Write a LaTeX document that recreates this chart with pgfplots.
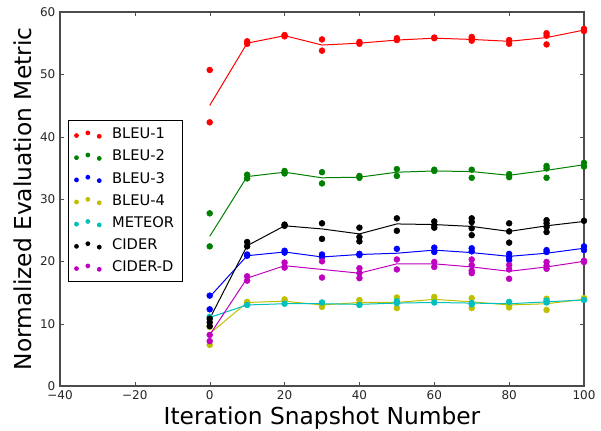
\documentclass[border=0pt]{standalone}
\usepackage{pgfplots}
\pgfplotsset{compat=1.18}
\usepackage{fontspec}
\setmainfont{DejaVu Sans}

\definecolor{mr}{rgb}{1,0,0}
\definecolor{mg}{rgb}{0,0.5,0}
\definecolor{mb}{rgb}{0,0,1}
\definecolor{my}{rgb}{0.75,0.75,0}
\definecolor{mc}{rgb}{0,0.75,0.75}
\definecolor{mk}{rgb}{0,0,0}
\definecolor{mm}{rgb}{0.75,0,0.75}

% scatter points, with three dots in the legend like matplotlib's scatterpoints=3
\pgfplotsset{
  pts/.style={only marks, mark=*, mark size=2.2pt, mark options={draw=#1, fill=#1}, draw=#1, fill=#1,
    legend image code/.code={
      \path[draw=none, fill=none] (0cm,0) -- (0.95cm,0);
      \fill[#1, draw=none] (0.08cm,-0.03cm) circle (1.8pt);
      \fill[#1, draw=none] (0.38cm,0.04cm) circle (1.8pt);
      \fill[#1, draw=none] (0.68cm,-0.05cm) circle (1.8pt);
    }},
  ln/.style={no marks, #1, line width=0.75pt, forget plot},
}

\begin{document}
\begin{tikzpicture}
\path[use as bounding box] (-45pt,-33pt) rectangle (405.75pt,289.5pt);
\begin{axis}[
  at={(0,0)}, anchor=south west,
  scale only axis,
  width=393pt, height=280.5pt,
  xmin=-40, xmax=100, ymin=0, ymax=60,
  xtick={-40,-20,0,20,40,60,80,100},
  xticklabels={−40,−20,0,20,40,60,80,100},
  ytick={0,10,20,30,40,50,60},
  tick align=inside,
  major tick length=3pt,
  tick style={black!70},
  axis line style={black!70, line width=0.9pt},
  ticklabel style={font=\fontsize{9}{11}\selectfont, text=black!85},
  /pgf/number format/assume math mode=true,
  xlabel={Iteration Snapshot Number},
  ylabel={Normalized Evaluation Metric},
  xlabel style={font=\fontsize{17.5}{20}\selectfont, at={(axis description cs:0.5,-0.085)}, anchor=center},
  ylabel style={font=\fontsize{17.5}{20}\selectfont, at={(axis description cs:-0.0716,0.5)}, anchor=center},
  legend style={at={(0.015,0.71)}, anchor=north west, font=\fontsize{11}{13}\selectfont,
    draw=black, row sep=3pt, inner xsep=4pt, inner ysep=3.5pt},
  legend cell align=left,
]
% BLEU-1
\addplot[pts=mr] coordinates {
 (0,50.7)(0,42.3)(10,55.3)(10,54.9)(20,56.3)(20,56.1)(30,55.6)(30,53.8)
 (40,55.2)(40,54.9)(50,55.8)(50,55.5)(60,55.9)(60,55.8)(70,56.0)(70,55.7)(70,55.4)
 (80,55.5)(80,54.9)(90,56.6)(90,56.2)(90,54.8)(100,57.3)(100,56.95)};
\addlegendentry{BLEU-1}
\addplot[ln=mr] coordinates {
 (0,45.0)(10,55.0)(20,56.2)(30,54.7)(40,55.0)(50,55.5)(60,55.8)(70,55.6)(80,55.3)(90,55.9)(100,57.1)};
% BLEU-2
\addplot[pts=mg] coordinates {
 (0,27.7)(0,22.4)(10,33.9)(10,33.3)(20,34.5)(20,34.1)(30,34.3)(30,32.5)(40,33.7)(40,33.4)
 (50,34.8)(50,33.7)(60,34.7)(60,34.5)(70,34.7)(70,33.4)(80,34.0)(80,33.5)
 (90,35.3)(90,34.9)(90,33.4)(100,35.8)(100,35.2)};
\addlegendentry{BLEU-2}
\addplot[ln=mg] coordinates {
 (0,24.0)(10,33.6)(20,34.3)(30,33.4)(40,33.5)(50,34.3)(60,34.5)(70,34.4)(80,33.8)(90,34.6)(100,35.5)};
% BLEU-3
\addplot[pts=mb] coordinates {
 (0,14.5)(0,12.3)(10,20.9)(10,21.1)(20,21.7)(20,21.4)(30,21.1)(30,20.7)(40,21.2)(40,21.0)
 (50,22.0)(60,22.2)(60,21.5)(70,22.1)(70,21.6)(80,21.2)(80,20.7)(80,20.2)
 (90,21.8)(90,21.5)(100,22.4)(100,21.8)};
\addlegendentry{BLEU-3}
\addplot[ln=mb] coordinates {
 (0,14.3)(10,20.9)(20,21.5)(30,20.7)(40,21.1)(50,21.3)(60,21.8)(70,21.4)(80,20.8)(90,21.3)(100,22.1)};
% BLEU-4
\addplot[pts=my] coordinates {
 (0,9.5)(0,6.6)(10,13.5)(10,13.2)(20,13.9)(20,13.6)(30,12.7)(30,13.0)(40,13.8)(40,13.2)
 (50,14.2)(50,12.5)(60,14.3)(60,13.9)(70,14.1)(70,12.5)(80,12.6)(80,13.1)
 (90,14.0)(90,12.2)(100,13.9)(100,14.1)};
\addlegendentry{BLEU-4}
\addplot[ln=my] coordinates {
 (0,8.4)(10,13.4)(20,13.6)(30,13.0)(40,13.4)(50,13.4)(60,13.9)(70,13.5)(80,13.0)(90,13.2)(100,13.9)};
% METEOR
\addplot[pts=mc] coordinates {
 (0,11.1)(10,13.0)(20,13.2)(30,13.4)(40,13.0)(50,13.6)(50,13.3)(60,13.4)
 (70,13.3)(70,13.1)(80,13.5)(90,13.7)(90,13.4)(100,13.8)};
\addlegendentry{METEOR}
\addplot[ln=mc] coordinates {
 (0,11.0)(10,13.0)(20,13.2)(30,13.2)(40,13.1)(50,13.3)(60,13.4)(70,13.3)(80,13.2)(90,13.5)(100,13.8)};
% CIDER
\addplot[pts=mk] coordinates {
 (0,10.8)(0,9.6)(0,10.2)(10,23.1)(10,22.4)(20,25.7)(20,25.9)(30,26.1)(30,23.6)
 (40,25.4)(40,23.9)(40,23.2)(50,26.9)(50,24.9)(60,26.4)(60,25.8)(60,25.4)
 (70,26.9)(70,26.3)(70,25.3)(70,24.2)(80,26.1)(80,24.8)(80,23.0)
 (90,26.6)(90,26.1)(90,25.5)(90,24.7)(100,26.5)};
\addlegendentry{CIDER}
\addplot[ln=mk] coordinates {
 (0,10.8)(10,22.5)(20,25.7)(30,25.2)(40,24.4)(50,26.0)(60,25.9)(70,25.6)(80,24.8)(90,25.7)(100,26.4)};
% CIDER-D
\addplot[pts=mm] coordinates {
 (0,8.2)(0,7.2)(10,17.6)(10,16.9)(20,19.8)(20,19.0)(30,20.0)(30,17.4)
 (40,18.9)(40,18.1)(40,17.3)(50,20.3)(50,18.7)(60,19.9)(60,19.1)
 (70,20.3)(70,19.4)(70,18.5)(70,18.1)(80,19.4)(80,18.7)(80,17.2)
 (90,19.9)(90,19.3)(90,18.8)(100,20.1)(100,19.9)};
\addlegendentry{CIDER-D}
\addplot[ln=mm] coordinates {
 (0,8.2)(10,17.3)(20,19.3)(30,18.7)(40,18.1)(50,19.6)(60,19.6)(70,19.1)(80,18.4)(90,19.1)(100,20.0)};
\end{axis}
\end{tikzpicture}
\end{document}
